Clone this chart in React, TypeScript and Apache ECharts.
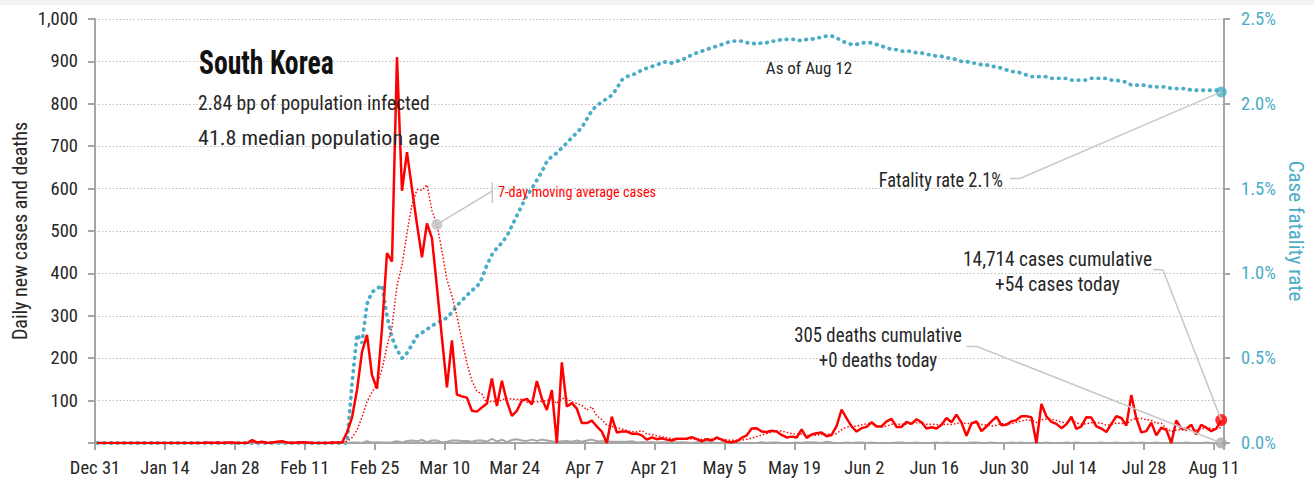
import React, { useEffect, useRef } from "react";
import * as echarts from "echarts";

// Day index 0 = Dec 31, 2019; last = Aug 12, 2020 (index 225)
const xTickLabels = ["Dec 31", "Jan 14", "Jan 28", "Feb 11", "Feb 25", "Mar 10", "Mar 24", "Apr 7", "Apr 21", "May 5", "May 19", "Jun 2", "Jun 16", "Jun 30", "Jul 14", "Jul 28", "Aug 11"];

const dailyCases = [
  0, 0, 0, 0, 0, 0, 0, 0, 0, 0,
  0, 0, 0, 0, 0, 0, 0, 0, 0, 0,
  0, 0, 1, 0, 1, 0, 1, 1, 0, 0,
  0, 7, 1, 3, 0, 1, 3, 4, 1, 0,
  1, 2, 1, 0, 0, 0, 0, 1, 1, 1,
  25, 60, 125, 215, 255, 160, 128, 270, 448, 428,
  910, 595, 686, 600, 516, 438, 518, 483, 367, 248,
  131, 242, 114, 110, 107, 76, 74, 84, 93, 152,
  87, 147, 98, 64, 76, 100, 104, 91, 146, 105,
  78, 125, 0, 190, 86, 94, 81, 47, 47, 53,
  39, 27, 0, 62, 25, 27, 27, 22, 22, 18,
  8, 13, 9, 11, 8, 6, 10, 10, 10, 14,
  9, 4, 9, 6, 13, 8, 3, 2, 4, 12,
  18, 34, 35, 27, 26, 29, 27, 19, 13, 15,
  13, 32, 12, 20, 23, 25, 16, 19, 40, 79,
  58, 39, 27, 35, 38, 49, 39, 39, 51, 57,
  38, 38, 50, 45, 56, 49, 34, 37, 34, 43,
  59, 49, 67, 48, 17, 46, 51, 28, 39, 51,
  62, 42, 43, 51, 54, 63, 63, 61, 0, 92,
  63, 50, 45, 35, 44, 62, 33, 39, 61, 60,
  39, 34, 26, 45, 63, 59, 41, 113, 58, 25,
  28, 48, 18, 36, 31, 0, 53, 34, 33, 43,
  20, 43, 36, 28, 34, 54,
];

const movingAvgCases = [
  0, 0, 0, 0, 0, 0, 0, 0, 0, 0,
  0, 0, 0, 0, 0, 0, 0, 0, 0, 0,
  0, 0, 0.1, 0.1, 0.3, 0.3, 0.4, 0.6, 0.6, 0.4,
  0.4, 1.3, 1.4, 1.7, 1.6, 1.7, 2.1, 2.7, 1.9, 1.7,
  1.4, 1.7, 1.7, 1.3, 0.7, 0.6, 0.6, 0.6, 0.4, 0.4,
  4, 12.6, 30.4, 61.1, 97.4, 120.1, 138.3, 173.3, 228.7, 272,
  371.3, 419.9, 495, 562.4, 597.6, 596.1, 609, 548, 515.4, 452.9,
  385.9, 346.7, 300.4, 242.1, 188.4, 146.9, 122, 115.3, 94, 99.4,
  96.1, 101.9, 105, 103.6, 102.4, 103.4, 96.6, 97.1, 97, 98,
  100, 107, 92.7, 105, 104.3, 96.9, 93.4, 89, 77.9, 85.4,
  63.9, 55.4, 42, 39.3, 36.1, 33.3, 29.6, 27.1, 26.4, 29,
  21.3, 19.6, 17, 14.7, 12.7, 10.4, 9.3, 9.6, 9.1, 9.9,
  9.6, 9, 9.4, 8.9, 9.3, 9, 7.4, 6.4, 6.4, 6.9,
  8.6, 11.6, 15.4, 18.9, 22.3, 25.9, 28, 28.1, 25.1, 22.3,
  20.3, 21.1, 18.7, 17.7, 18.3, 20, 20.1, 21, 22.1, 31.7,
  37.1, 39.4, 39.7, 42.4, 45.1, 46.4, 40.7, 38, 39.7, 44,
  44.4, 44.4, 44.6, 45.4, 47.9, 47.6, 44.3, 44.1, 43.6, 42.6,
  44.6, 43.6, 46.1, 48.1, 45.3, 47, 48.1, 43.7, 42.3, 40,
  42, 45.6, 45.1, 45.1, 48.9, 52.3, 54, 53.9, 47.9, 54.9,
  56.6, 56, 53.4, 49.4, 47, 55.9, 47.4, 44, 45.6, 47.7,
  48.3, 46.9, 41.7, 43.4, 46.9, 46.6, 43.9, 54.4, 57.9, 57.7,
  55.3, 53.1, 47.3, 46.6, 34.9, 26.6, 30.6, 31.4, 29.3, 32.9,
  30.6, 32.3, 37.4, 33.9, 33.9, 36.9,
];

const dailyDeaths = [
  0, 0, 0, 0, 0, 0, 0, 0, 0, 0,
  0, 0, 0, 0, 0, 0, 0, 0, 0, 0,
  0, 0, 0, 0, 0, 0, 0, 0, 0, 0,
  0, 0, 0, 0, 0, 0, 0, 0, 0, 0,
  0, 0, 0, 0, 0, 0, 0, 0, 0, 0,
  0, 1, 1, 0, 4, 1, 2, 1, 1, 2,
  4, 1, 5, 6, 4, 7, 2, 6, 6, 1,
  3, 6, 6, 5, 5, 3, 6, 6, 3, 10,
  3, 8, 2, 7, 9, 6, 5, 8, 5, 8,
  6, 4, 3, 4, 5, 3, 6, 3, 6, 8,
  4, 4, 4, 3, 3, 3, 3, 4, 1, 2,
  2, 2, 1, 2, 2, 2, 1, 2, 1, 0,
  2, 1, 2, 2, 0, 1, 2, 2, 2, 0,
  0, 0, 0, 2, 0, 1, 1, 0, 0, 0,
  1, 0, 2, 1, 1, 0, 3, 1, 0, 0,
  1, 0, 1, 1, 0, 1, 0, 0, 0, 0,
  1, 1, 0, 0, 1, 0, 0, 0, 1, 0,
  1, 0, 0, 0, 0, 1, 1, 0, 0, 1,
  0, 0, 0, 1, 0, 1, 0, 0, 1, 0,
  1, 0, 0, 0, 1, 0, 1, 0, 0, 0,
  0, 1, 0, 0, 1, 0, 0, 1, 0, 1,
  0, 0, 1, 0, 0, 1, 0, 0, 1, 0,
  0, 0, 1, 0, 0, 0,
];

// Case fatality rate, percent
const caseFatalityRate = [
  0, 0, 0, 0, 0, 0, 0, 0, 0, 0,
  0, 0, 0, 0, 0, 0, 0, 0, 0, 0,
  0, 0, 0, 0, 0, 0, 0, 0, 0, 0,
  0, 0, 0, 0, 0, 0, 0, 0, 0, 0,
  0, 0, 0, 0, 0, 0, 0, 0, 0, 0,
  0, 0.35, 0.64, 0.59, 0.82, 0.89, 0.91, 0.93, 0.75, 0.62,
  0.55, 0.5, 0.53, 0.58, 0.63, 0.65, 0.67, 0.69, 0.71, 0.72,
  0.74, 0.77, 0.81, 0.84, 0.87, 0.9, 0.92, 0.97, 1.05, 1.11,
  1.15, 1.18, 1.22, 1.28, 1.34, 1.4, 1.46, 1.5, 1.55, 1.6,
  1.66, 1.69, 1.71, 1.74, 1.77, 1.8, 1.83, 1.86, 1.91, 1.96,
  1.99, 2.01, 2.03, 2.05, 2.09, 2.14, 2.16, 2.17, 2.18, 2.2,
  2.21, 2.22, 2.23, 2.24, 2.25, 2.24, 2.25, 2.26, 2.27, 2.29,
  2.3, 2.31, 2.32, 2.33, 2.34, 2.35, 2.36, 2.37, 2.37, 2.37,
  2.36, 2.36, 2.35, 2.36, 2.36, 2.37, 2.37, 2.38, 2.38, 2.38,
  2.38, 2.37, 2.38, 2.38, 2.39, 2.39, 2.4, 2.4, 2.39, 2.37,
  2.36, 2.35, 2.35, 2.36, 2.36, 2.36, 2.35, 2.34, 2.33, 2.32,
  2.32, 2.31, 2.31, 2.31, 2.3, 2.3, 2.29, 2.29, 2.28, 2.28,
  2.27, 2.27, 2.26, 2.25, 2.25, 2.24, 2.24, 2.23, 2.23, 2.22,
  2.22, 2.21, 2.2, 2.19, 2.19, 2.18, 2.17, 2.16, 2.16, 2.16,
  2.16, 2.15, 2.15, 2.15, 2.15, 2.14, 2.14, 2.14, 2.14, 2.15,
  2.15, 2.15, 2.15, 2.14, 2.14, 2.13, 2.13, 2.11, 2.11, 2.11,
  2.11, 2.1, 2.1, 2.1, 2.1, 2.09, 2.09, 2.09, 2.09, 2.08,
  2.08, 2.08, 2.08, 2.08, 2.08, 2.07,
];

const MA_MARKER_DAY = 68; // where the "7-day moving average" label points

const FONT = "'Liberation Sans Narrow', 'Roboto Condensed', 'DejaVu Sans Condensed', 'Liberation Sans', sans-serif";
const RED = "#FF0000";
const CYAN = "#4BACC6";
const GRAY = "#A6A6A6";
const LEADER = "#C8C8C8";
const TEXT = "#262626";
const X_SHIFT = 0.45; // points are plotted at mid-day

const toPairs = (arr: number[]) => arr.map((v, i) => [i + X_SHIFT, v]);

export default function App() {
  const ref = useRef<HTMLDivElement>(null);

  useEffect(() => {
    document.body.style.margin = "0";
    const el = ref.current!;
    const chart = echarts.init(el, null, { renderer: "svg" });
    const last = dailyCases.length - 1;
    const lastX = last + X_SHIFT;

    chart.setOption({
      animation: false,
      backgroundColor: "#ffffff",
      grid: { left: 95, right: 90, top: 19, bottom: 41, containLabel: false },
      xAxis: {
        type: "value",
        min: 0,
        max: 226,
        interval: 14,
        axisLine: { show: true, lineStyle: { color: GRAY, width: 2 } },
        axisTick: { show: true, length: 7, lineStyle: { color: GRAY, width: 2 } },
        splitLine: { show: false },
        axisLabel: {
          margin: 15,
          color: TEXT,
          fontFamily: FONT,
          fontSize: 18.5,
          formatter: (v: number) => (v % 14 === 0 ? xTickLabels[v / 14] ?? "" : ""),
        },
      },
      yAxis: [
        {
          type: "value",
          min: 0,
          max: 1000,
          interval: 100,
          axisLine: { show: true, lineStyle: { color: GRAY, width: 2 } },
          axisTick: { show: true, length: 7, lineStyle: { color: GRAY, width: 2 } },
          splitLine: { show: true, lineStyle: { color: "#BFBFBF", type: [1.5, 2], width: 1 } },
          axisLabel: {
            margin: 17,
            color: TEXT,
            fontFamily: FONT,
            fontSize: 18.5,
            formatter: (v: number) => (v === 0 ? "" : v.toLocaleString("en-US")),
          },
        },
        {
          type: "value",
          min: 0,
          max: 2.5,
          interval: 0.5,
          position: "right",
          axisLine: { show: true, lineStyle: { color: GRAY, width: 2 } },
          axisTick: { show: true, length: 6, lineStyle: { color: GRAY, width: 2 } },
          splitLine: { show: false },
          axisLabel: {
            margin: 17,
            color: CYAN,
            fontFamily: FONT,
            fontSize: 18.5,
            formatter: (v: number) => v.toFixed(1) + "%",
          },
        },
      ],
      series: [
        {
          name: "Case fatality rate",
          type: "line",
          yAxisIndex: 1,
          data: toPairs(caseFatalityRate),
          showSymbol: false,
          symbol: "none",
          z: 2,
          lineStyle: { color: CYAN, width: 3.8, type: [0.5, 6.2], cap: "round" },
        },
        {
          name: "Daily deaths",
          type: "line",
          data: toPairs(dailyDeaths),
          showSymbol: false,
          symbol: "none",
          z: 3,
          lineStyle: { color: GRAY, width: 2 },
        },
        {
          name: "7-day moving average cases",
          type: "line",
          data: toPairs(movingAvgCases),
          showSymbol: false,
          symbol: "none",
          z: 4,
          lineStyle: { color: RED, width: 1.5, type: [1.5, 2] },
        },
        {
          name: "Daily new cases",
          type: "line",
          data: toPairs(dailyCases),
          showSymbol: false,
          symbol: "none",
          z: 5,
          lineStyle: { color: RED, width: 2.5 },
        },
        {
          name: "CFR latest",
          type: "scatter",
          yAxisIndex: 1,
          data: [[lastX, caseFatalityRate[last]]],
          symbolSize: 11,
          itemStyle: { color: CYAN },
          z: 6,
        },
        {
          name: "Cases latest",
          type: "scatter",
          data: [[lastX, dailyCases[last]]],
          symbolSize: 12,
          itemStyle: { color: RED },
          z: 7,
        },
        {
          name: "Deaths latest",
          type: "scatter",
          data: [[lastX, dailyDeaths[last]]],
          symbolSize: 11,
          itemStyle: { color: "#A6A6A6" },
          z: 7,
        },
        {
          name: "MA marker",
          type: "scatter",
          data: [[MA_MARKER_DAY + X_SHIFT, movingAvgCases[MA_MARKER_DAY]]],
          symbolSize: 11,
          itemStyle: { color: "#BFBFBF" },
          z: 7,
        },
      ],
    });

    const px = (seriesIndex: number, pt: number[]) =>
      chart.convertToPixel({ seriesIndex }, pt) as unknown as number[];
    const cfrPt = px(4, [lastX, caseFatalityRate[last]]);
    const casesPt = px(5, [lastX, dailyCases[last]]);
    const deathsPt = px(6, [lastX, dailyDeaths[last]]);
    const maPt = px(7, [MA_MARKER_DAY + X_SHIFT, movingAvgCases[MA_MARKER_DAY]]);

    const txt = (text: string, x: number, y: number, extra: any = {}, elExtra: any = {}) => ({
      type: "text",
      x,
      y,
      z: 100,
      ...elExtra,
      style: {
        text,
        fill: TEXT,
        fontFamily: FONT,
        fontSize: 20,
        align: "left",
        verticalAlign: "middle",
        ...extra,
      },
    });
    const line = (x1: number, y1: number, x2: number, y2: number) => ({
      type: "line",
      z: 50,
      shape: { x1, y1, x2, y2 },
      style: { stroke: LEADER, lineWidth: 1.5 },
    });
    const poly = (points: number[][]) => ({
      type: "polyline",
      z: 50,
      shape: { points },
      style: { stroke: LEADER, lineWidth: 1.5, fill: "none" },
    });

    chart.setOption({
      graphic: [
        { type: "rect", z: 0, shape: { x: 0, y: 0, width: 1314, height: 5 }, style: { fill: "#F2F2F2" } },
        txt("South Korea", 199, 63, { fontSize: 33, fontWeight: "bold", fill: "#111111" }, { scaleX: 0.84 }),
        txt("2.84 bp of population infected", 198, 103, { fontSize: 21 }, { scaleX: 0.93 }),
        txt("41.8 median population age", 198, 138, { fontSize: 21 }, { scaleX: 1.05 }),
        txt("As of Aug 12", 809, 68, { fontSize: 17, align: "center" }),
        txt("7-day moving average cases", 498, 192, { fontSize: 15 , fill: RED }, { scaleX: 0.95 }),
        line(492.3, 182, 492.3, 203),
        line(492.3, 191, maPt[0], maPt[1]),
        txt("Fatality rate 2.1%", 1003, 180, { fontSize: 20, align: "right" }, { scaleX: 0.92 }),
        poly([[1010, 178.5], [1020, 178.5], [cfrPt[0], cfrPt[1]]]),
        txt("14,714 cases cumulative", 1057.5, 259, { fontSize: 20, align: "center" }, { scaleX: 0.97 }),
        txt("+54 cases today", 1057.5, 284, { fontSize: 20, align: "center" }, { scaleX: 0.97 }),
        poly([[1153, 269.5], [1163, 270], [casesPt[0], casesPt[1]]]),
        txt("305 deaths cumulative", 878, 335, { fontSize: 20, align: "center" }, { scaleX: 0.94 }),
        txt("+0 deaths today", 878, 360, { fontSize: 20, align: "center" }, { scaleX: 0.94 }),
        poly([[966.5, 346.5], [977, 346.5], [deathsPt[0], deathsPt[1]]]),
        txt("Daily new cases and deaths", 20, 231, { fontSize: 20, align: "center" }, { rotation: Math.PI / 2 }),
        txt("Case fatality rate", 1296, 231, { fontSize: 21, align: "center", fill: CYAN }, { rotation: -Math.PI / 2 }),
      ],
    });

    return () => chart.dispose();
  }, []);

  return <div ref={ref} style={{ width: 1314, height: 484 }} />;
}
